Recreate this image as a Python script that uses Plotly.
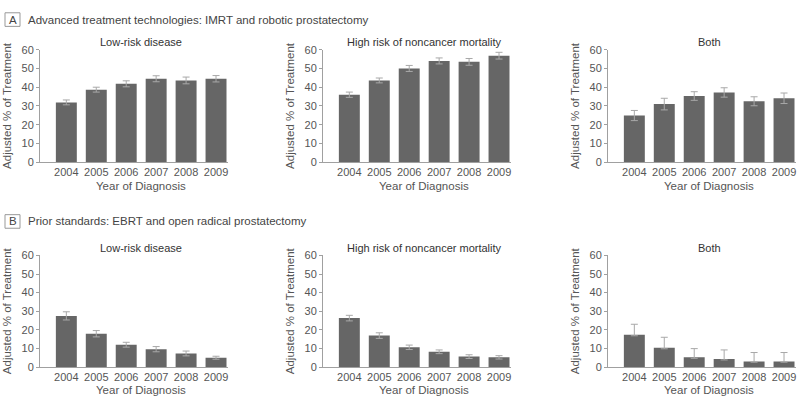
import plotly.graph_objects as go

# годы и подписи
years = ['2004', '2005', '2006', '2007', '2008', '2009']
panel_titles = ['Low-risk disease', 'High risk of noncancer mortality', 'Both']

# A: IMRT и роботическая простатэктомия
a_low = [31.9, 38.7, 41.8, 44.5, 43.6, 44.5]
a_low_err = [1.3, 1.3, 1.6, 1.6, 1.8, 1.7]
a_high = [36.0, 43.6, 50.0, 54.0, 53.5, 56.8]
a_high_err = [1.4, 1.3, 1.6, 1.6, 1.8, 1.8]
a_both = [24.9, 31.0, 35.3, 37.2, 32.5, 34.1]
a_both_err = [2.7, 3.1, 2.3, 2.5, 2.4, 2.8]

# B: EBRT и открытая простатэктомия
b_low = [27.5, 17.9, 12.0, 9.6, 7.3, 5.0]
b_low_err = [2.2, 1.7, 1.3, 1.4, 1.3, 0.8]
b_high = [26.3, 16.9, 10.6, 8.2, 5.6, 5.2]
b_high_err = [1.5, 1.5, 1.2, 1.0, 1.0, 0.9]
b_both = [17.4, 10.4, 5.2, 4.3, 3.0, 3.0]
b_both_up = [5.6, 5.6, 4.7, 4.9, 4.8, 4.8]
b_both_down = [0.6, 0.6, 0.5, 0.5, 0.4, 0.4]

bar_color = '#666666'
err_color = '#a8a8a8'
txt_color = '#444444'
font_name = 'Liberation Sans'

W, H = 800, 407

# пиксельные позиции панелей
x_px = [(40, 228), (323, 511), (608, 796)]
y_px = [(45, 161), (257, 372)]

series = [
    (a_low, a_low_err, a_low_err),
    (a_high, a_high_err, a_high_err),
    (a_both, a_both_err, a_both_err),
    (b_low, b_low_err, b_low_err),
    (b_high, b_high_err, b_high_err),
    (b_both, b_both_up, b_both_down),
]

fig = go.Figure()
annotations = []
shapes = []

for i, (vals, up, down) in enumerate(series):
    row, col = divmod(i, 3)
    n = '' if i == 0 else str(i + 1)
    fig.add_trace(go.Bar(
        x=years, y=vals, xaxis='x' + n, yaxis='y' + n,
        marker=dict(color=bar_color, line=dict(width=0)),
        width=0.7,
        error_y=dict(type='data', symmetric=False, array=up, arrayminus=down,
                     color=err_color, thickness=1, width=3.5),
        showlegend=False,
    ))
    x0, x1 = x_px[col]
    y0, y1 = y_px[row]
    fig.layout['xaxis' + n] = dict(
        domain=[x0 / W, x1 / W], anchor='y' + n, type='category',
        range=[-0.88, 5.4], showline=True, linecolor='#a0a0a0', linewidth=1,
        ticks='', showgrid=False, zeroline=False,
        tickfont=dict(size=11, color='#555555', family=font_name),
    )
    fig.layout['yaxis' + n] = dict(
        domain=[1 - y1 / H, 1 - y0 / H], anchor='x' + n,
        range=[0, 60], tickvals=[0, 10, 20, 30, 40, 50, 60],
        showline=True, linecolor='#a0a0a0', linewidth=1,
        ticks='outside', ticklen=3, tickcolor='#a0a0a0',
        showgrid=False, zeroline=False,
        tickfont=dict(size=11, color='#555555', family=font_name),
        title=dict(text='Adjusted % of Treatment', standoff=7,
                   font=dict(size=11.5, color='#555555', family=font_name)),
    )
    # заголовок панели
    annotations.append(dict(
        text=panel_titles[col], xref='x' + n, yref='paper', x=2.5,
        y=1 - (y0 - 8) / H, yanchor='middle', showarrow=False,
        font=dict(size=11, color='#333333', family=font_name)))
    # подпись оси x
    annotations.append(dict(
        text='Year of Diagnosis', xref='x' + n, yref='paper', x=2.5,
        y=1 - (y1 + 24) / H, yanchor='middle', showarrow=False,
        font=dict(size=11.5, color='#555555', family=font_name)))

headers = [('A', 'Advanced treatment technologies: IMRT and robotic prostatectomy', 14),
           ('B', 'Prior standards: EBRT and open radical prostatectomy', 222)]
for letter, text, yc in headers:
    shapes.append(dict(type='rect', xref='paper', yref='paper',
                       x0=5 / W, x1=20 / W, y0=1 - (yc + 7) / H, y1=1 - (yc - 7) / H,
                       line=dict(color='#999999', width=1)))
    annotations.append(dict(text=letter, xref='paper', yref='paper',
                            x=12.5 / W, y=1 - yc / H, xanchor='center', yanchor='middle',
                            showarrow=False,
                            font=dict(size=11.5, color='#444444', family=font_name)))
    annotations.append(dict(text=text, xref='paper', yref='paper',
                            x=26 / W, y=1 - yc / H, xanchor='left', yanchor='middle',
                            showarrow=False,
                            font=dict(size=11.5, color='#444444', family=font_name)))

fig.update_layout(
    width=W, height=H, margin=dict(l=0, r=0, t=0, b=0),
    paper_bgcolor='white', plot_bgcolor='white',
    annotations=annotations, shapes=shapes, bargap=0.3,
    font=dict(family=font_name, color=txt_color),
)

# убираем отступы страницы, чтобы график занял окно целиком
fig.write_html('out.html', config={'displayModeBar': False},
               post_script="document.body.style.margin='0';document.body.style.overflow='hidden';")
